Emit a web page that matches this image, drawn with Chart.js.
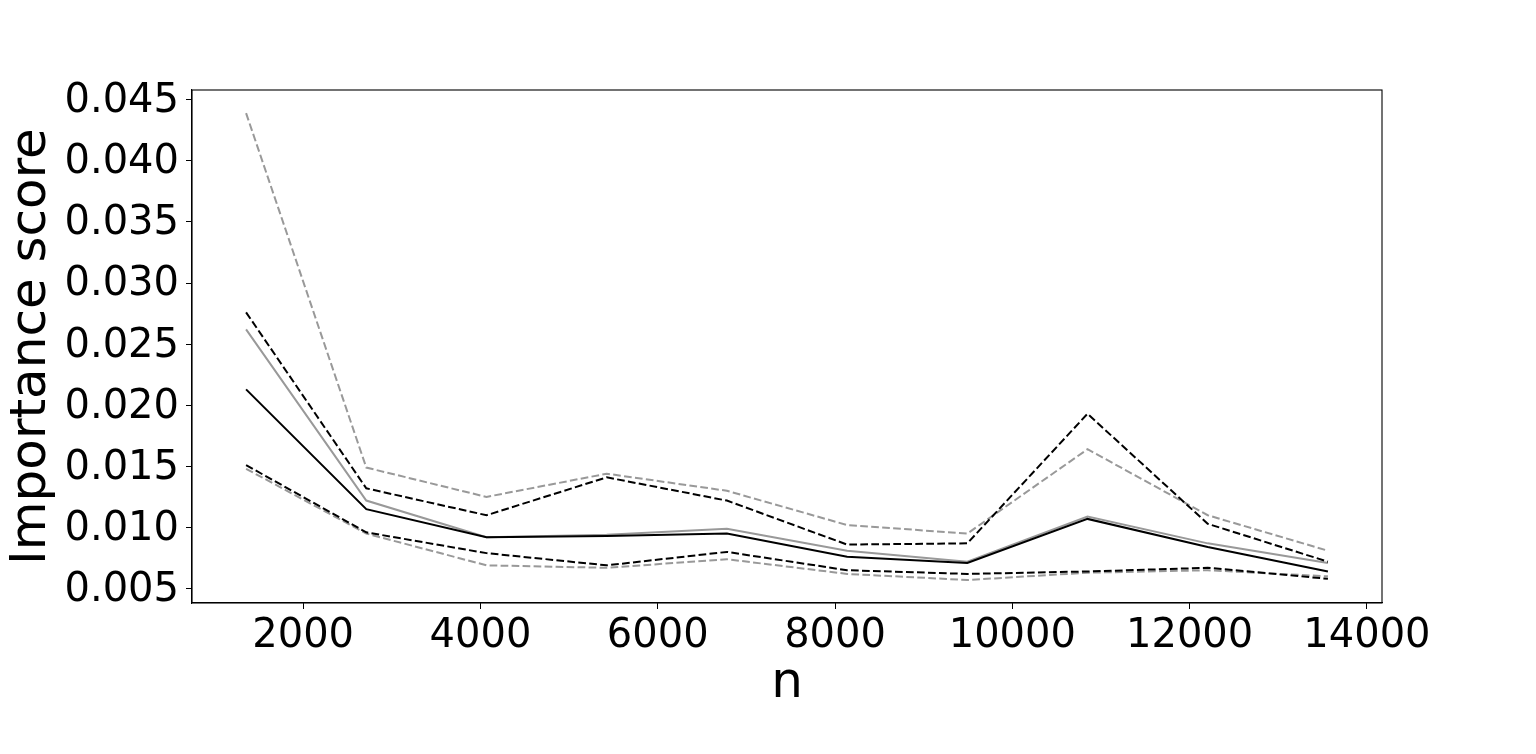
<!DOCTYPE html>
<html>
<head>
<meta charset="utf-8">
<script src="https://cdn.jsdelivr.net/npm/chart.js@4"></script>
<style>
  html, body { margin: 0; padding: 0; background: #fff; }
  #wrap { width: 1536px; height: 754px; }
</style>
</head>
<body>
<div id="wrap"><canvas id="graphic"></canvas></div>
<script>
var nValues = [1356, 2712, 4068, 5424, 6780, 8136, 9492, 10848, 12204, 13560];

var blackMean  = [0.0213, 0.0115, 0.0092, 0.0093, 0.0095, 0.0076, 0.0071, 0.0107, 0.0084, 0.0064];
var blackUpper = [0.0276, 0.0132, 0.0110, 0.0141, 0.0122, 0.0086, 0.0087, 0.0193, 0.0103, 0.0072];
var blackLower = [0.0151, 0.0096, 0.0079, 0.0069, 0.0080, 0.0065, 0.0062, 0.0064, 0.0067, 0.0058];
var grayMean   = [0.0262, 0.0122, 0.0092, 0.0094, 0.0099, 0.0081, 0.0072, 0.0109, 0.0087, 0.0071];
var grayUpper  = [0.0439, 0.0149, 0.0125, 0.0144, 0.0130, 0.0102, 0.0095, 0.0164, 0.0110, 0.0081];
var grayLower  = [0.0148, 0.0095, 0.0069, 0.0067, 0.0074, 0.0062, 0.0057, 0.0063, 0.0065, 0.0060];

var xTicks = [2000, 4000, 6000, 8000, 10000, 12000, 14000];
var yTicks = [0.005, 0.010, 0.015, 0.020, 0.025, 0.030, 0.035, 0.040, 0.045];

var BLACK = '#000000';
var GRAY = '#999999';
var DASH = [7.7, 3.3];

function pts(ys) {
    return ys.map(function (y, i) { return {x: nValues[i], y: y}; });
}

function series(label, ys, color, dashed) {
    return {
        label: label,
        data: pts(ys),
        borderColor: color,
        backgroundColor: color,
        borderWidth: 2,
        borderDash: dashed ? DASH : [],
        pointRadius: 0,
        tension: 0,
        fill: false
    };
}

// box around the plot area (matplotlib spines)
var frame = {
    id: 'frame',
    afterDraw: function (chart) {
        var a = chart.chartArea, c = chart.ctx;
        c.save();
        c.strokeStyle = '#000';
        c.lineWidth = 1.1;
        c.strokeRect(a.left, a.top, a.right - a.left, a.bottom - a.top);
        c.restore();
    }
};

var ctx = document.getElementById('graphic').getContext('2d');

var graphic = new Chart(ctx, {
    type: 'line',
    data: {
        datasets: [
            series('black mean', blackMean, BLACK, false),
            series('black upper', blackUpper, BLACK, true),
            series('black lower', blackLower, BLACK, true),
            series('gray mean', grayMean, GRAY, false),
            series('gray upper', grayUpper, GRAY, true),
            series('gray lower', grayLower, GRAY, true)
        ]
    },
    options: {
        responsive: true,
        maintainAspectRatio: false,
        animation: false,
        layout: { padding: { top: 90, right: 154, left: 0, bottom: 0 } },
        plugins: { legend: { display: false }, tooltip: { enabled: false } },
        scales: {
            x: {
                type: 'linear',
                min: 746,
                max: 14170,
                afterBuildTicks: function (s) { s.ticks = xTicks.map(function (v) { return {value: v}; }); },
                afterFit: function (s) { s.height = 151; },
                grid: { drawOnChartArea: false, drawTicks: true, tickLength: 6, color: '#000' },
                border: { color: '#000', width: 1.1 },
                ticks: {
                    color: '#000',
                    padding: 4,
                    maxRotation: 0,
                    autoSkip: false,
                    font: { family: 'DejaVu Sans', size: 40 },
                    callback: function (v) { return String(v); }
                },
                title: {
                    display: true,
                    text: 'n',
                    color: '#000',
                    font: { family: 'DejaVu Sans', size: 50 },
                    padding: { top: 0, bottom: 40 }
                }
            },
            y: {
                type: 'linear',
                min: 0.00382,
                max: 0.04579,
                afterBuildTicks: function (s) { s.ticks = yTicks.map(function (v) { return {value: v}; }); },
                afterFit: function (s) { s.width = 192; },
                grid: { drawOnChartArea: false, drawTicks: true, tickLength: 6, color: '#000' },
                border: { color: '#000', width: 1.1 },
                ticks: {
                    color: '#000',
                    padding: 7,
                    labelOffset: 2,
                    autoSkip: false,
                    font: { family: 'DejaVu Sans', size: 40 },
                    callback: function (v) { return v.toFixed(3); }
                },
                title: {
                    display: true,
                    text: 'Importance score',
                    color: '#000',
                    font: { family: 'DejaVu Sans', size: 50 },
                    padding: { top: 2, bottom: 0 }
                }
            }
        }
    },
    plugins: [frame]
});
</script>
</body>
</html>
